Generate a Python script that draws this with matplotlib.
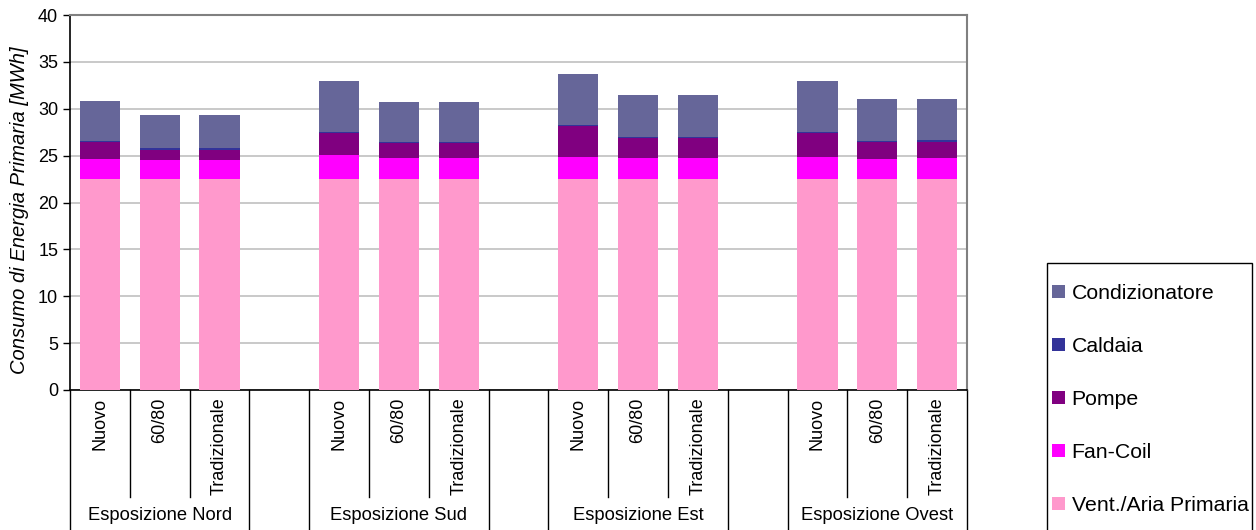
import matplotlib.pyplot as plt
import matplotlib.transforms as mtransforms
from matplotlib.patches import Rectangle
import numpy as np

plt.rcParams['font.family'] = ['Liberation Sans', 'DejaVu Sans']

gruppi = ['Esposizione Nord', 'Esposizione Sud', 'Esposizione Est', 'Esposizione Ovest']
tipi = ['Nuovo', '60/80', 'Tradizionale']

# valori in MWh, ordine: Nord(Nuovo, 60/80, Trad), Sud, Est, Ovest
vent = [22.5, 22.5, 22.5, 22.5, 22.5, 22.5, 22.5, 22.5, 22.5, 22.5, 22.5, 22.5]
fancoil = [2.14, 2.07, 2.07, 2.57, 2.25, 2.25, 2.35, 2.25, 2.25, 2.35, 2.14, 2.25]
pompe = [1.80, 1.07, 1.07, 2.34, 1.60, 1.60, 3.35, 2.17, 2.17, 2.56, 1.85, 1.74]
caldaia = [0.11, 0.21, 0.21, 0.15, 0.14, 0.14, 0.10, 0.10, 0.10, 0.15, 0.10, 0.21]
condiz = [4.27, 3.48, 3.48, 5.40, 4.23, 4.23, 5.40, 4.45, 4.45, 5.40, 4.40, 4.37]

serie = [('Vent./Aria Primaria', vent, '#FF99CC'),
         ('Fan-Coil', fancoil, '#FF00FF'),
         ('Pompe', pompe, '#800080'),
         ('Caldaia', caldaia, '#333399'),
         ('Condizionatore', condiz, '#666699')]

fig = plt.figure(figsize=(12.56, 5.30), dpi=100)
ax = fig.add_axes([70 / 1256, 140 / 530, 897 / 1256, 375 / 530])

# posizione dei bar: 4 slot per gruppo, l'ultimo vuoto
x = np.array([g * 4 + i for g in range(len(gruppi)) for i in range(len(tipi))])

bottom = np.zeros(len(x))
handles = []
for nome, vals, col in serie:
    b = ax.bar(x, vals, 0.67, bottom=bottom, color=col, label=nome, zorder=3)
    handles.append(b)
    bottom += np.array(vals)

ax.set_xlim(-0.5, 14.5)
ax.set_ylim(0, 40)
ax.set_yticks(range(0, 41, 5))
ax.tick_params(axis='y', labelsize=13, length=5, width=1, direction='out')
ax.set_xticks([])
ax.yaxis.grid(True, color='#C0C0C0', linewidth=1.2, zorder=0)

for s in ['top', 'right']:
    ax.spines[s].set_color('#808080')
    ax.spines[s].set_linewidth(1.5)
ax.spines['left'].set_linewidth(1.2)
ax.spines['bottom'].set_linewidth(1.2)

ax.set_ylabel('Consumo di Energia Primaria [MWh]', fontsize=14.5, style='italic')
ax.yaxis.set_label_coords(-0.046, 0.48)

# etichette asse categorie a due livelli
trans = mtransforms.blended_transform_factory(ax.transData, ax.transAxes)
for xi, t in zip(x, tipi * len(gruppi)):
    ax.text(xi, -0.02, t, rotation=90, ha='center', va='top', fontsize=13,
            transform=trans)
for g, nome in enumerate(gruppi):
    ax.text(g * 4 + 1, -0.335, nome, ha='center', va='center', fontsize=13.2,
            transform=trans)
    for k in (0.5, 1.5):
        ax.plot([g * 4 + k] * 2, [0, -0.285], color='black', linewidth=1,
                transform=trans, clip_on=False)
    for k in (-0.5, 2.5):
        ax.plot([g * 4 + k] * 2, [0, -0.37], color='black', linewidth=1,
                transform=trans, clip_on=False)

# legenda: cornice disegnata a parte, esce dal bordo inferiore
fig.patches.append(Rectangle((1047 / 1256, -0.05), 205 / 1256, 1.05 - 263 / 530,
                             transform=fig.transFigure, fill=False,
                             edgecolor='black', linewidth=1))
fig.legend(handles[::-1], [s[0] for s in serie][::-1], loc='upper left',
           bbox_to_anchor=(1052 / 1256, 1 - 284 / 530), borderaxespad=0,
           fontsize=15.3, frameon=False, borderpad=0,
           handlelength=0.62, handleheight=0.62, handletextpad=0.3,
           labelspacing=1.6)

fig.savefig('out.png', dpi=100)
